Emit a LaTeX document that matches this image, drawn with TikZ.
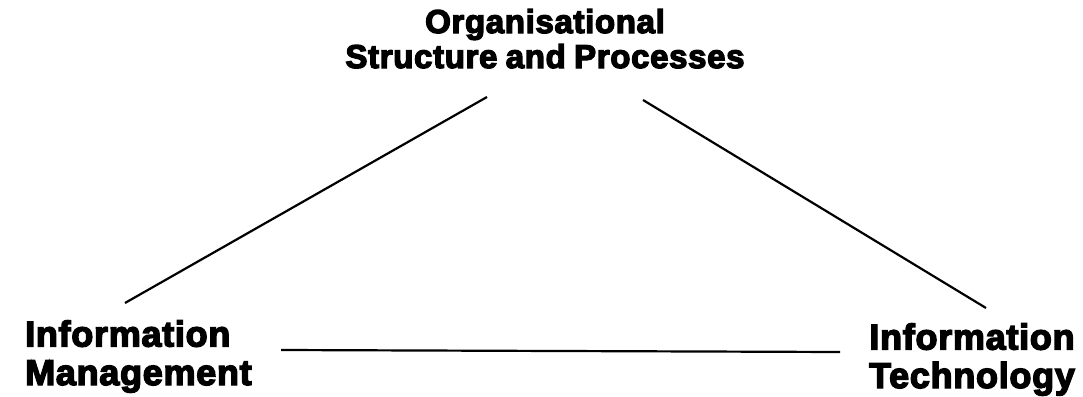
\documentclass[tikz,border=0pt]{standalone}
\usepackage{fontspec}
\setmainfont{Liberation Sans}
\newfontfamily\heavyfont{Liberation Sans Bold}[FakeBold=4, LetterSpace=2, WordSpace=0.85]
\usepackage{tikz}
\tikzstyle{toplabel} = [font=\fontsize{33}{35}\selectfont\heavyfont, align=center, inner sep=0pt]
\tikzstyle{cornerlabel} = [font=\fontsize{36}{38.5}\selectfont\heavyfont, inner sep=0pt]
\tikzstyle{edge} = [line width=2.2pt, black]

\begin{document}
\begin{tikzpicture}[x=1pt, y=-1pt]
\useasboundingbox (0,0) rectangle (1083,396);
\node (org) [toplabel, anchor=base] at (545,68) {Organisational\\Structure and Processes};
\node (im) [cornerlabel, align=left, anchor=base west] at (25,385) {Information\\Management};
\node (it) [cornerlabel, align=center, anchor=base] at (972,388) {Information\\Technology};

\draw [edge] ([shift={(-58,29)}]org.base) -- ([shift={(100,-82)}]im.base west);
\draw [edge] ([shift={(98,32)}]org.base) -- ([shift={(14,-80)}]it.base);
\draw [edge] ([shift={(256,-35)}]im.base west) -- ([shift={(-132,-36)}]it.base);
\end{tikzpicture}
\end{document}
